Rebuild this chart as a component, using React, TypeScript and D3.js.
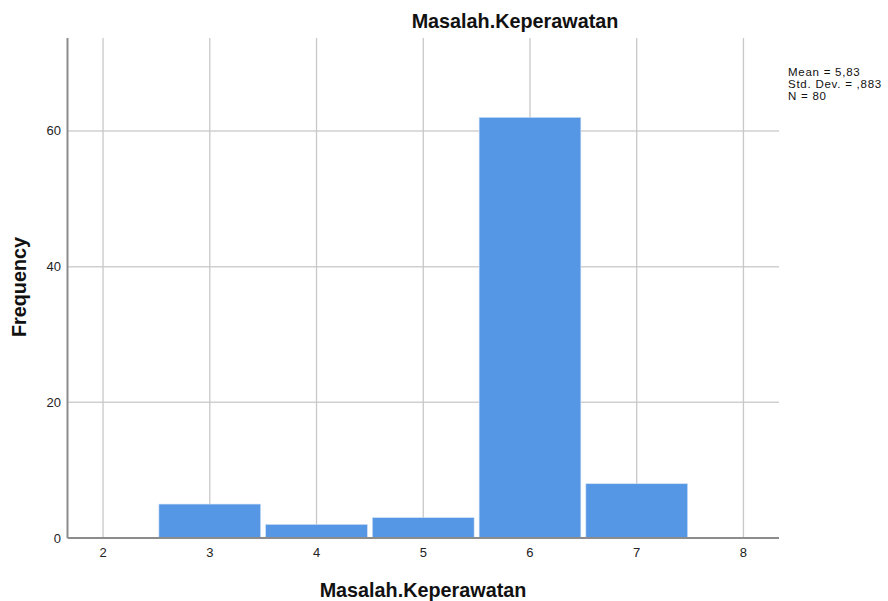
import React from "react";
import * as d3 from "d3";

const binCenters = [3, 4, 5, 6, 7];
const frequencies = [5, 2, 3, 62, 8];
const xTicks = [2, 3, 4, 5, 6, 7, 8];
const yTicks = [0, 20, 40, 60];
const statsLines = ["Mean = 5,83", "Std. Dev. = ,883", "N = 80"];
const title = "Masalah.Keperawatan";
const xLabel = "Masalah.Keperawatan";
const yLabel = "Frequency";

const W = 888;
const H = 601;
const left = 67.5;
const right = 779;
const top = 38;
const bottom = 538;
const FONT = "'Liberation Sans', Arial, sans-serif";

export default function App() {
  const x = d3.scaleLinear().domain([1.667, 8.333]).range([left, right]);
  const y = d3.scaleLinear().domain([0, 73.7]).range([bottom, top]);
  const inset = 2.5;
  return (
    <svg width={W} height={H} style={{ position: "absolute", left: 0, top: 0, background: "#fff" }}>
      <rect x={0} y={0} width={W} height={H} fill="#fff" />
      {yTicks.filter((t) => t > 0).map((t) => (
        <line key={"hy" + t} x1={left} x2={right} y1={y(t)} y2={y(t)} stroke="#d0d0d0" strokeWidth={1.5} />
      ))}
      {xTicks.map((t) => (
        <line key={"vx" + t} x1={x(t)} x2={x(t)} y1={top} y2={bottom} stroke="#c8c8c8" strokeWidth={1.3} />
      ))}
      {binCenters.map((c, i) => (
        <rect
          key={"b" + c}
          x={x(c - 0.5) + inset}
          y={y(frequencies[i])}
          width={x(c + 0.5) - x(c - 0.5) - 2 * inset}
          height={bottom - y(frequencies[i])}
          fill="#5596e5"
          stroke="#cfe0f7"
          strokeWidth={0.6}
        />
      ))}
      <line x1={left} x2={left} y1={top} y2={bottom} stroke="#8c8c8c" strokeWidth={2} />
      <line x1={left} x2={right} y1={bottom} y2={bottom} stroke="#8c8c8c" strokeWidth={2} />
      {yTicks.map((t) => (
        <text key={"yt" + t} x={61} y={y(t)} dy="0.35em" textAnchor="end" fontFamily={FONT} fontSize={13} fill="#222">
          {t}
        </text>
      ))}
      {xTicks.map((t) => (
        <text key={"xt" + t} x={x(t)} y={557} textAnchor="middle" fontFamily={FONT} fontSize={13} fill="#222">
          {t}
        </text>
      ))}
      <text x={515} y={28} textAnchor="middle" fontFamily={FONT} fontSize={19.8} fontWeight="bold" fill="#111">
        {title}
      </text>
      <text x={423} y={597} textAnchor="middle" fontFamily={FONT} fontSize={19.8} fontWeight="bold" fill="#111">
        {xLabel}
      </text>
      <text
        transform={`translate(26,287) rotate(-90)`}
        textAnchor="middle"
        fontFamily={FONT}
        fontSize={19.8}
        fontWeight="bold"
        fill="#111"
      >
        {yLabel}
      </text>
      {statsLines.map((s, i) => (
        <text key={"s" + i} x={788} y={76 + i * 12} fontFamily={FONT} fontSize={11.5} letterSpacing={0.75} fill="#111">
          {s}
        </text>
      ))}
    </svg>
  );
}
